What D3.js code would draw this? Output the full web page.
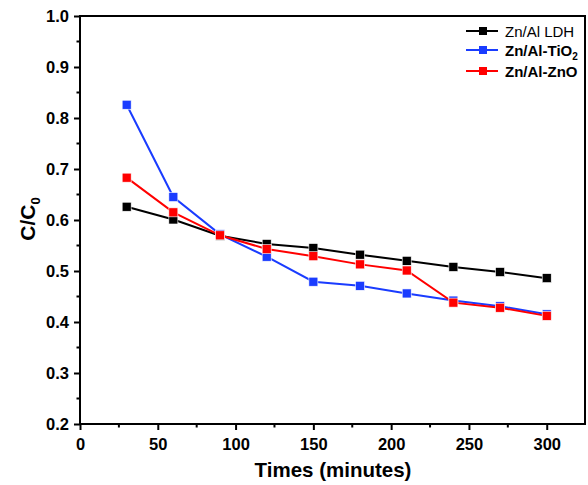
<!DOCTYPE html>
<html><head><meta charset="utf-8">
<script src="https://cdn.jsdelivr.net/npm/d3@7"></script>
<style>body{margin:0;background:#fff}svg{display:block;font-family:Arial,"Liberation Sans",sans-serif}</style>
</head><body><svg id="c" width="588" height="485"></svg>
<script>
const times = [30,60,90,120,150,180,210,240,270,300];
const ldh  = [0.626,0.601,0.569,0.553,0.545,0.532,0.520,0.508,0.498,0.486];
const tio2 = [0.826,0.645,0.572,0.528,0.479,0.471,0.456,0.442,0.431,0.415];
const zno  = [0.683,0.615,0.570,0.543,0.529,0.513,0.501,0.438,0.428,0.412];
const seriesNames = ["Zn/Al LDH","Zn/Al-TiO","Zn/Al-ZnO"];
const seriesColors = ["#000000","#1a3cff","#ff0000"];
const xTicks = [0,50,100,150,200,250,300];
const yTicks = [0.2,0.3,0.4,0.5,0.6,0.7,0.8,0.9,1.0];

const svg = d3.select("#c");
const L=80,R=585,T=16,B=424;
const x = d3.scaleLinear().domain([0,324.6]).range([L,R]);
const y = d3.scaleLinear().domain([0.2,1.0]).range([B,T]);

const xa = svg.append("g").attr("transform",`translate(0,${B})`)
  .call(d3.axisBottom(x).tickValues(xTicks).tickSize(6).tickPadding(8).tickFormat(d3.format("d")));
const ya = svg.append("g").attr("transform",`translate(${L},0)`)
  .call(d3.axisLeft(y).tickValues(yTicks).tickSize(6).tickPadding(5).tickFormat(d3.format(".1f")));
[xa,ya].forEach(a=>{a.select(".domain").remove();
  a.selectAll("line").attr("stroke","#000").attr("stroke-width",2);
  a.selectAll("text").attr("font-size",16.5).attr("font-weight","bold").attr("fill","#000").attr("font-family","Arial, 'Liberation Sans', sans-serif");});
svg.append("g").selectAll("line").data(d3.range(25,325,50)).join("line")
  .attr("x1",d=>x(d)).attr("x2",d=>x(d)).attr("y1",B).attr("y2",B+3.5).attr("stroke","#000").attr("stroke-width",2);
svg.append("g").selectAll("line").data(d3.range(0.25,1.0,0.1)).join("line")
  .attr("y1",d=>y(d)).attr("y2",d=>y(d)).attr("x1",L).attr("x2",L-3.5).attr("stroke","#000").attr("stroke-width",2);
svg.append("rect").attr("x",L).attr("y",T).attr("width",R-L).attr("height",B-T)
  .attr("fill","none").attr("stroke","#000").attr("stroke-width",2);

const all=[ldh,tio2,zno];
const line=d3.line().x((d,i)=>x(times[i])).y(d=>y(d));
all.forEach((s,k)=>{
  svg.append("path").datum(s).attr("d",line).attr("fill","none").attr("stroke",seriesColors[k]).attr("stroke-width",2);
});
all.forEach((s,k)=>{
  svg.append("g").selectAll("rect").data(s).join("rect")
    .attr("x",(d,i)=>x(times[i])-4.5).attr("y",d=>y(d)-4.5).attr("width",9).attr("height",9)
    .attr("fill",seriesColors[k]).attr("stroke","#fff").attr("stroke-width",0.6);
});

const ly=[31,50,71];
seriesNames.forEach((n,k)=>{
  const g=svg.append("g");
  g.append("line").attr("x1",466).attr("x2",498).attr("y1",ly[k]).attr("y2",ly[k]).attr("stroke",seriesColors[k]).attr("stroke-width",2);
  g.append("rect").attr("x",479).attr("y",ly[k]-4).attr("width",8).attr("height",8).attr("fill",seriesColors[k]);
  const t=g.append("text").attr("x",505).attr("y",ly[k]+5.5).attr("font-size",15).attr("fill","#000")
    .attr("font-weight",k===0?"normal":"bold").text(n);
  if(k===1) t.append("tspan").attr("font-size",10).attr("dy",4).text("2");
});

svg.append("text").attr("x",333).attr("y",477).attr("text-anchor","middle").attr("font-size",20.5).attr("font-weight","bold").text("Times (minutes)");
const yt=svg.append("text").attr("transform","translate(35,219) rotate(-90)").attr("text-anchor","middle").attr("font-size",21).attr("font-weight","bold");
yt.append("tspan").text("C/C");
yt.append("tspan").attr("font-size",13).attr("dy",5).text("0");
</script></body></html>
